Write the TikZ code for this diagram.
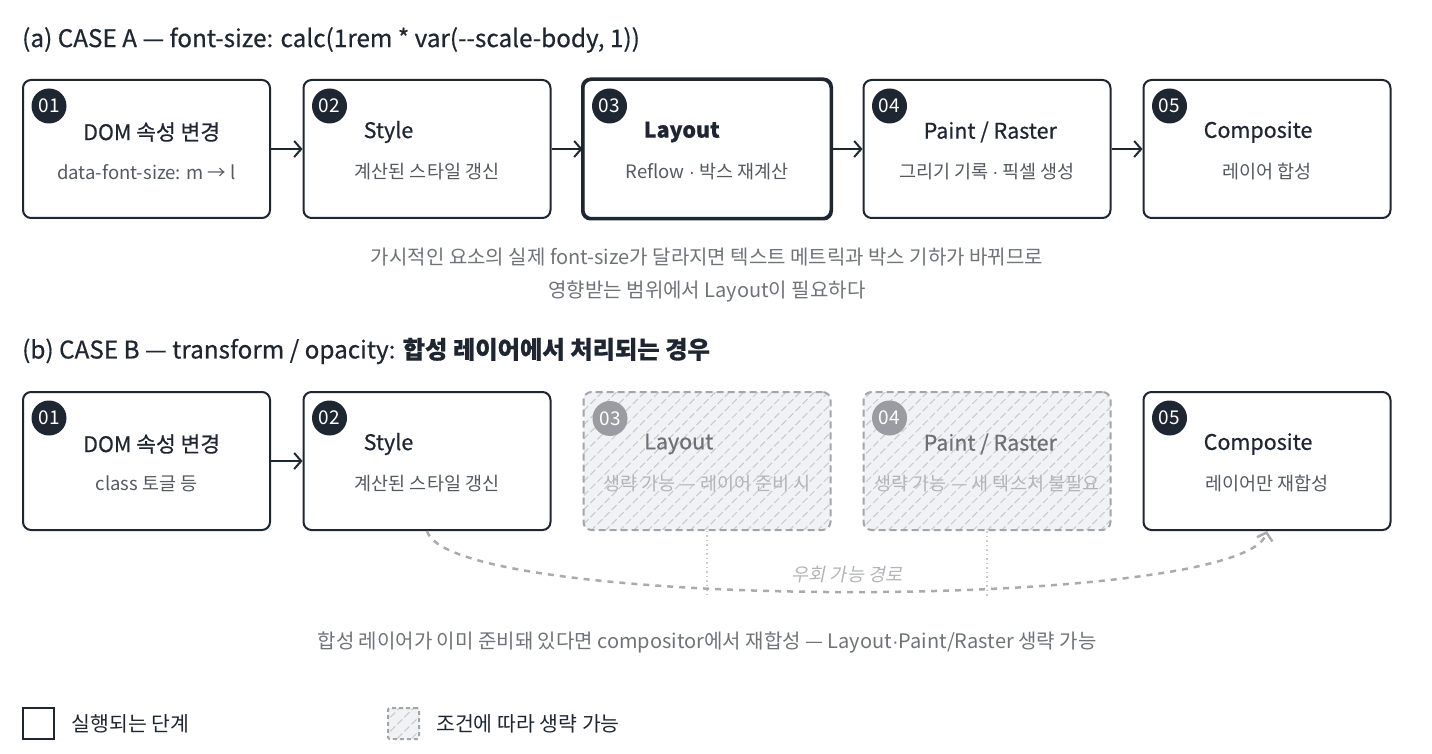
\documentclass[tikz,border=0pt]{standalone}
\usepackage{fontspec}
\setmainfont{Noto Sans CJK KR}
\newfontfamily\krslant[FakeSlant=0.2]{Noto Sans CJK KR}
\newfontfamily\krmed[FakeBold=0.5]{Noto Sans CJK KR}
\newfontfamily\dotfont{Liberation Sans}
\newcommand\mdot{{\dotfont ·}}
\usetikzlibrary{arrows.meta, positioning, patterns.meta}

\definecolor{ink}{HTML}{1E2631}
\definecolor{subgray}{HTML}{555A60}
\definecolor{notegray}{HTML}{6F7378}
\definecolor{skipline}{HTML}{A3A5A9}
\definecolor{skipfill}{HTML}{F0F2F4}
\definecolor{hatch}{HTML}{C6CACE}
\definecolor{skipbadge}{HTML}{9A9CA2}
\definecolor{skiptitle}{HTML}{6D7076}
\definecolor{skiptext}{HTML}{B2B4B8}
\definecolor{detourgray}{HTML}{A9ABAE}

\begin{document}
\begin{tikzpicture}[x=1pt, y=-1pt,
  stage/.style={draw=ink, line width=2pt, rounded corners=8pt, minimum width=247pt, minimum height=138pt, fill=white},
  skipped/.style={draw=skipline, line width=2pt, dash pattern=on 7pt off 4pt, rounded corners=8pt, minimum width=247pt, minimum height=138pt, preaction={fill=skipfill}, pattern={Lines[angle=45, distance=10pt, line width=1pt]}, pattern color=hatch},
  badge/.style={circle, fill=ink, text=white, minimum size=35pt, inner sep=0pt, font=\fontsize{19}{19}\selectfont},
  title/.style={anchor=west, inner sep=0pt, text=ink, font=\fontsize{21.5}{26}\krmed},
  sub/.style={inner sep=0pt, text=subgray, font=\fontsize{18.5}{22}\selectfont},
  flow/.style={draw=ink, line width=2pt, -{Straight Barb[length=7pt, width=16pt]}},
  heading/.style={anchor=west, inner sep=0pt, text=ink, font=\fontsize{24.3}{28}\krmed},
  note/.style={inner sep=0pt, text=notegray, font=\fontsize{20}{33}\selectfont, align=center},
  detour/.style={draw=detourgray, line width=2.5pt, dash pattern=on 6pt off 6pt, -{Straight Barb[length=7pt, width=16pt]}},
  skipdot/.style={draw=hatch, line width=1.5pt, dash pattern=on 1.5pt off 3pt}
]
\useasboundingbox (0,0) rectangle (1432,754);

% (a) case A
\node[heading] (headA) at (22,40) {(a) CASE A — font-size: calc(1rem * var(-{}-scale-body, 1))};

\foreach \n/\cx/\ttl/\txt in {1/146.5/{DOM 속성 변경}/{data-font-size: m → l},
    2/427/{Style}/{계산된 스타일 갱신},
    3/707/{\bfseries Layout}/{Reflow \mdot{} 박스 재계산},
    4/987/{Paint / Raster}/{그리기 기록 \mdot{} 픽셀 생성},
    5/1267/{Composite}/{레이어 합성}} {
  \node[stage] (a\n) at (\cx,149) {};
  \node[badge] (a\n num) at ([shift={(27,27)}]a\n.north west) {0\n};
  \node[title] (a\n ttl) at ([shift={(61,-17)}]a\n.west) {\ttl};
  \node[sub] (a\n txt) at ([shift={(0,23)}]a\n.center) {\txt};
}
\draw[ink, line width=3pt, rounded corners=8pt] (a3.north west) rectangle (a3.south east);

\foreach \i [evaluate=\i as \j using int(\i+1)] in {1,...,4}
  \draw[flow] (a\i) -- (a\j);

\node[note] (noteA) at (707,275) {가시적인 요소의 실제 font-size가 달라지면 텍스트 메트릭과 박스 기하가 바뀌므로\\영향받는 범위에서 Layout이 필요하다};

% (b) case B
\node[heading] (headB) at (22,351) {(b) CASE B — transform / opacity: \textbf{합성 레이어에서 처리되는 경우}};

\foreach \n/\cx/\ttl/\txt in {1/146.5/{DOM 속성 변경}/{class 토글 등},
    2/427/{Style}/{계산된 스타일 갱신},
    5/1267/{Composite}/{레이어만 재합성}} {
  \node[stage] (b\n) at (\cx,461) {};
  \node[badge] (b\n num) at ([shift={(27,27)}]b\n.north west) {0\n};
  \node[title] (b\n ttl) at ([shift={(61,-17)}]b\n.west) {\ttl};
  \node[sub] (b\n txt) at ([shift={(0,23)}]b\n.center) {\txt};
}
\foreach \n/\cx/\ttl/\txt in {3/707/{Layout}/{생략 가능 — 레이어 준비 시},
    4/987/{Paint / Raster}/{생략 가능 — 새 텍스처 불필요}} {
  \node[skipped] (b\n) at (\cx,461) {};
  \node[badge, fill=skipbadge] (b\n num) at ([shift={(27,27)}]b\n.north west) {0\n};
  \node[title, text=skiptitle] (b\n ttl) at ([shift={(61,-17)}]b\n.west) {\ttl};
  \node[sub, text=skiptext] (b\n txt) at ([shift={(0,23)}]b\n.center) {\txt};
}

\draw[flow] (b1) -- (b2);

% bypass path
\coordinate (b3end) at (707,598);
\coordinate (b4end) at (987,598);
\draw[skipdot] (b3.south) -- (b3end);
\draw[skipdot] (b4.south) -- (b4end);
\draw[detour] (b2.south) .. controls (450,612) and (1244,612) .. (b5.south);
\node[inner sep=0pt, text=skiptext, font=\fontsize{18.5}{22}\krslant] (detourlbl) at (847,575) {우회 가능 경로};

\node[note] (noteB) at (707,642) {합성 레이어가 이미 준비돼 있다면 compositor에서 재합성 — Layout\mdot Paint/Raster 생략 가능};

% legend
\node[draw=ink, line width=2.5pt, minimum size=31pt, inner sep=0pt] (keyrun) at (38.5,723.5) {};
\node[right=16pt of keyrun, inner sep=0pt, text=ink, font=\fontsize{20.5}{24}\selectfont] (keyruntxt) {실행되는 단계};
\node[draw=skipline, line width=2pt, dash pattern=on 4pt off 3pt, rounded corners=2pt, minimum size=31pt, inner sep=0pt, preaction={fill=skipfill}, pattern={Lines[angle=45, distance=10pt, line width=1pt]}, pattern color=hatch] (keyskip) at (403.5,723.5) {};
\node[right=16pt of keyskip, inner sep=0pt, text=ink, font=\fontsize{20.5}{24}\selectfont] (keyskiptxt) {조건에 따라 생략 가능};
\end{tikzpicture}
\end{document}
